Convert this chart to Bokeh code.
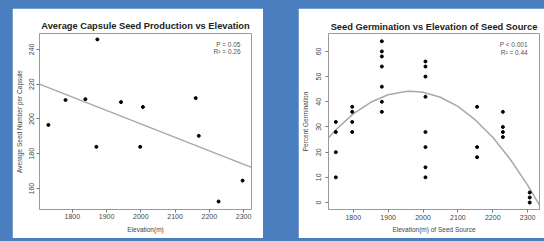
from bokeh.plotting import figure
from bokeh.models import FixedTicker, Label, Range1d
from bokeh.layouts import row
from bokeh.embed import file_html
from bokeh.resources import INLINE

# ---------------- data: left panel (capsule seed production) ----------------
seed_elev = [1730, 1780, 1838, 1870, 1873, 1942, 1998, 2006, 2160, 2169, 2227, 2297]
seed_count = [196.6, 210.9, 211.4, 184.0, 245.7, 209.7, 184.0, 206.9, 212.0, 190.3, 152.6, 164.6]
seed_fit_elev = [1704, 2323]
seed_fit_count = [220.0, 172.2]
seed_xticks = [1800, 1900, 2000, 2100, 2200, 2300]
seed_yticks = [160, 180, 200, 220, 240]
seed_stats = ["P = 0.05", "R\u00b2 = 0.26"]

# ---------------- data: right panel (germination) ----------------
germ_elev = ([1750] * 4 + [1797] * 4 + [1882] * 7 + [2007] * 8 +
             [2155] * 3 + [2229] * 4 + [2306] * 3)
germ_pct = [32, 28, 20, 10,
            38, 36, 32, 28,
            64, 60, 58, 54, 46, 40, 36,
            56, 54, 50, 42, 28, 22, 14, 10,
            38, 22, 18,
            36, 30, 28, 26,
            4, 2, 0]
germ_curve_elev = [1729, 1750, 1800, 1850, 1900, 1950, 1965, 2000, 2050, 2100,
                   2150, 2200, 2250, 2300, 2334]
germ_curve_pct = [25.7, 28.9, 35.2, 39.8, 42.8, 44.1, 44.2, 43.8, 41.8, 38.2,
                  32.8, 25.9, 17.2, 6.9, -1.0]
germ_xticks = [1800, 1900, 2000, 2100, 2200, 2300]
germ_yticks = [0, 10, 20, 30, 40, 50, 60]
germ_stats = ["P < 0.001", "R\u00b2 = 0.44"]

FONT = "Liberation Sans"
BLUE = "#4a7ebe"


def make_panel(title, xlabel, ylabel, xr, yr, xticks, yticks, width, height,
               mb, title_standoff, ylab_standoff, ylab_axis_standoff,
               xlab_standoff, xlab_axis_standoff):
    p = figure(width=width, height=height, output_backend="svg",
               toolbar_location=None, x_range=Range1d(*xr), y_range=Range1d(*yr),
               min_border_left=mb[0], min_border_right=mb[1],
               min_border_top=mb[2], min_border_bottom=mb[3])
    p.title.text = title
    p.title.align = "center"
    p.title.text_font = FONT
    p.title.text_font_size = "9.3px"
    p.title.text_font_style = "bold"
    p.title.text_color = "#222222"
    p.title.standoff = title_standoff
    p.background_fill_color = "white"
    p.border_fill_color = "white"
    p.outline_line_color = "#9a9a9a"
    p.outline_line_width = 1
    p.xgrid.grid_line_color = None
    p.ygrid.grid_line_color = None
    for ax in (p.xaxis[0], p.yaxis[0]):
        ax.axis_line_color = None
        ax.major_tick_line_color = "#777777"
        ax.major_tick_out = 3
        ax.major_tick_in = 0
        ax.minor_tick_line_color = None
        ax.major_label_text_font = FONT
        ax.major_label_text_font_size = "7px"
        ax.major_label_text_color = "#444444"
        ax.axis_label_text_font = FONT
        ax.axis_label_text_font_size = "6.5px"
        ax.axis_label_text_font_style = "normal"
        ax.axis_label_text_color = "#444444"
    p.xaxis[0].ticker = FixedTicker(ticks=xticks)
    p.yaxis[0].ticker = FixedTicker(ticks=yticks)
    p.xaxis[0].axis_label = xlabel
    p.yaxis[0].axis_label = ylabel
    p.yaxis[0].major_label_orientation = "vertical"
    p.yaxis[0].major_label_standoff = ylab_standoff
    p.yaxis[0].axis_label_standoff = ylab_axis_standoff
    p.xaxis[0].major_label_standoff = xlab_standoff
    p.xaxis[0].axis_label_standoff = xlab_axis_standoff
    return p


p1 = make_panel("Average Capsule Seed Production vs Elevation", "Elevation(m)",
                "Average Seed Number per Capsule", (1704, 2323), (148, 249.1),
                seed_xticks, seed_yticks, 251, 230, (26, 12, 25, 28),
                5, 2, 4, 1, 4)
p1.line(seed_fit_elev, seed_fit_count, line_color="#a8a8a8", line_width=1.5)
p1.scatter(seed_elev, seed_count, size=3, color="black")
for txt, yv in zip(seed_stats, [243.0, 238.5]):
    p1.add_layout(Label(x=2291, y=yv, text=txt, text_align="right",
                        text_baseline="middle", text_font=FONT,
                        text_font_size="6.5px", text_color="#555555"))

p2 = make_panel("Seed Germination vs Elevation of Seed Source",
                "Elevation(m) of Seed Source", "Percent Germination",
                (1729, 2334), (-2.76, 67.1), germ_xticks, germ_yticks,
                246, 230, (28, 5, 24, 29), 4, 4, 5, 2, 3)
p2.line(germ_curve_elev, germ_curve_pct, line_color="#a8a8a8", line_width=1.5)
p2.scatter(germ_elev, germ_pct, size=3, color="black")
for txt, yv in zip(germ_stats, [62.9, 59.7]):
    p2.add_layout(Label(x=2300, y=yv, text=txt, text_align="right",
                        text_baseline="middle", text_font=FONT,
                        text_font_size="6.5px", text_color="#555555"))

layout = row(p1, p2, spacing=35, styles={"margin-left": "4px"})

html = file_html(layout, INLINE)
css = ("<style>html, body { background-color: %s !important; overflow: hidden; }"
       " body { margin: 8px 0 0 8px !important; }</style>" % BLUE)
html = html.replace("</head>", css + "</head>", 1)
open("out.html", "w").write(html)
